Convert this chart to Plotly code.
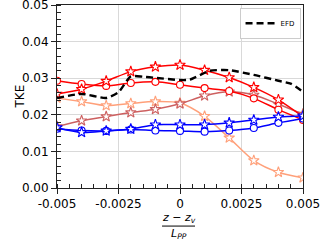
import plotly.graph_objects as go

x = [-0.005, -0.004, -0.003, -0.002, -0.001, 0.0, 0.001, 0.002, 0.003, 0.004, 0.005]

red_circle = [0.0293, 0.0284, 0.0279, 0.0287, 0.0290, 0.0282, 0.0273, 0.0265, 0.0245, 0.0214, 0.0186]
red_star = [0.0257, 0.0270, 0.0292, 0.0318, 0.0331, 0.0336, 0.0322, 0.0302, 0.0275, 0.0241, 0.0195]
indianred_star = [0.0168, 0.0184, 0.0195, 0.0206, 0.0215, 0.0230, 0.0252, 0.0263, 0.0254, 0.0229, 0.0202]
salmon_star = [0.0246, 0.0236, 0.0225, 0.0231, 0.0236, 0.0232, 0.0196, 0.0137, 0.0075, 0.0043, 0.0028]
blue_star = [0.0165, 0.0152, 0.0156, 0.0161, 0.0173, 0.0173, 0.0173, 0.0178, 0.0186, 0.0194, 0.0197]
blue_circle = [0.0162, 0.0157, 0.0156, 0.0160, 0.0157, 0.0156, 0.0154, 0.0157, 0.0164, 0.0178, 0.0190]

x_efd = [-0.005, -0.004, -0.003, -0.0025, -0.002, -0.0015, -0.001, 0.0, 0.0004, 0.0012, 0.002, 0.003, 0.004, 0.0045, 0.005]
efd = [0.0246, 0.0257, 0.0246, 0.0262, 0.0305, 0.0304, 0.0301, 0.0295, 0.0296, 0.0320, 0.0322, 0.0309, 0.0293, 0.0285, 0.0263]

xtick_vals = [-0.005, -0.0025, 0.0, 0.0025, 0.005]
xtick_text = ["-0.005", "-0.0025", "0", "0.0025", "0.005"]
ytick_vals = [0.0, 0.01, 0.02, 0.03, 0.04, 0.05]
ytick_text = ["0.00", "0.01", "0.02", "0.03", "0.04", "0.05"]

FONT = "DejaVu Sans"

fig = go.Figure()

series = [
    (salmon_star, "#FFA07A", "star"),
    (indianred_star, "#CD6060", "star"),
    (red_circle, "#FF0000", "circle"),
    (red_star, "#FF0000", "star"),
    (blue_circle, "#0000FF", "circle"),
    (blue_star, "#0000FF", "star"),
]
for ys, col, sym in series:
    fig.add_trace(go.Scatter(
        x=x, y=ys, mode="lines+markers",
        line=dict(color=col, width=1.5, shape="spline", smoothing=0.8),
        marker=dict(symbol=sym, size=8 if sym == "star" else 7, color="white",
                    line=dict(color=col, width=1.1)),
        showlegend=False,
    ))

fig.add_trace(go.Scatter(
    x=x_efd, y=efd, mode="lines", name="EFD",
    line=dict(color="black", width=2.4, dash="7px,4px", shape="spline", smoothing=0.6),
    showlegend=True,
))

axis_common = dict(
    showline=True, linecolor="#222", linewidth=1, mirror=True,
    showgrid=True, gridcolor="#d9d9d9", gridwidth=1,
    ticks="outside", ticklen=5, tickcolor="#222", tickwidth=1,
    tickfont=dict(family=FONT, size=12, color="black"),
    zeroline=False, automargin=False, ticklabeloverflow="allow",
)

fig.update_xaxes(
    range=[-0.005, 0.005], tickvals=xtick_vals, ticktext=xtick_text,
    minor=dict(dtick=0.0005, tick0=0, ticks="inside", ticklen=4, tickcolor="#222", showgrid=False),
    **axis_common,
)
fig.update_yaxes(
    range=[0, 0.0500001], tickvals=ytick_vals, ticktext=ytick_text,
    minor=dict(dtick=0.002, tick0=0, ticks="inside", ticklen=4, tickcolor="#222", showgrid=False),
    **axis_common,
)

# y-axis label
fig.add_annotation(xref="paper", yref="paper", x=-0.191, y=0.5,
                   text="TKE", textangle=-90, showarrow=False,
                   font=dict(family=FONT, size=12, color="black"))

# x-axis label as a fraction
fig.add_annotation(xref="paper", yref="paper", x=0.494, y=-0.164,
                   text="<i>z</i> − <i>z<sub>v</sub></i>", showarrow=False,
                   font=dict(family=FONT, size=11, color="black"), yanchor="middle")
fig.add_shape(type="line", xref="paper", yref="paper", x0=0.427, x1=0.561,
              y0=-0.208, y1=-0.208, line=dict(color="black", width=1))
fig.add_annotation(xref="paper", yref="paper", x=0.494, y=-0.25,
                   text="<i>L<sub>PP</sub></i>", showarrow=False,
                   font=dict(family=FONT, size=11, color="black"), yanchor="middle")

fig.update_layout(
    width=321, height=242,
    margin=dict(l=57, r=18, t=5, b=54, autoexpand=False),
    paper_bgcolor="white", plot_bgcolor="white",
    font=dict(family=FONT, color="black"),
    legend=dict(x=0.99, y=0.985, xanchor="right", yanchor="top",
                bgcolor="white", bordercolor="#cccccc", borderwidth=1,
                font=dict(family=FONT, size=7, color="black"),
                itemwidth=30, tracegroupgap=0),
)

fig.write_html("out.html", config={"displayModeBar": False},
               post_script="document.body.style.margin='0';document.body.style.overflow='hidden';")
